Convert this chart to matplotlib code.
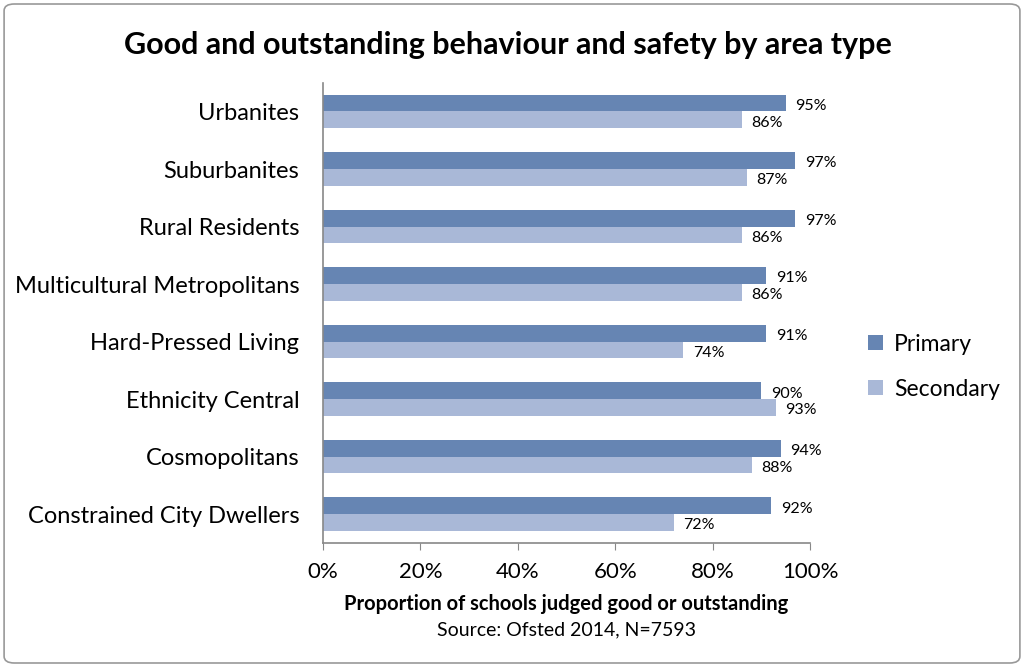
"""
Good and outstanding behaviour and safety by area type (Ofsted 2014).
"""

import matplotlib
matplotlib.use("Agg")
import matplotlib.pyplot as plt
import numpy as np
from matplotlib.patches import FancyBboxPatch

categories = [
    "Urbanites",
    "Suburbanites",
    "Rural Residents",
    "Multicultural Metropolitans",
    "Hard-Pressed Living",
    "Ethnicity Central",
    "Cosmopolitans",
    "Constrained City Dwellers",
]
primary = [95, 97, 97, 91, 91, 90, 94, 92]
secondary = [86, 87, 86, 86, 74, 93, 88, 72]
x_ticks = [0, 20, 40, 60, 80, 100]

PRIMARY_COLOR = "#6685b3"
SECONDARY_COLOR = "#a9b8d7"


def main():
    plt.rcParams["font.family"] = ["Lato", "DejaVu Sans"]

    fig = plt.figure(figsize=(10.24, 6.67), dpi=100)
    ax = fig.add_axes([0.3154, 0.186, 0.4756, 0.69])

    y = np.arange(len(categories))
    h = 0.29
    ax.barh(y - h / 2, primary, height=h, color=PRIMARY_COLOR, label="Primary")
    ax.barh(y + h / 2, secondary, height=h, color=SECONDARY_COLOR, label="Secondary")

    for yi, p, s in zip(y, primary, secondary):
        ax.annotate(f"{p}%", (p, yi - h / 2), xytext=(7, -2), textcoords="offset points",
                    va="center", ha="left", fontsize=11.5)
        ax.annotate(f"{s}%", (s, yi + h / 2), xytext=(7, -2), textcoords="offset points",
                    va="center", ha="left", fontsize=11.5)

    ax.set_xlim(0, 100)
    ax.set_ylim(len(categories) - 0.5, -0.5)
    ax.set_xticks(x_ticks)
    ax.set_xticklabels([f"{t}%" for t in x_ticks], fontsize=16)
    ax.set_yticks(y)
    ax.set_yticklabels(categories, fontsize=17, va="center_baseline")
    ax.tick_params(axis="y", length=0, pad=17)
    ax.tick_params(axis="x", length=5, color="#888888", pad=9)

    for side in ("top", "right"):
        ax.spines[side].set_visible(False)
    for side in ("left", "bottom"):
        ax.spines[side].set_color("#888888")
        ax.spines[side].set_linewidth(1.2)

    fig.text(0.496, 0.932, "Good and outstanding behaviour and safety by area type",
             ha="center", va="center", fontsize=22, fontweight="bold")
    fig.text(0.553, 0.095, "Proportion of schools judged good or outstanding",
             ha="center", va="center", fontsize=14.5, fontweight="bold")
    fig.text(0.553, 0.056, "Source: Ofsted 2014, N=7593",
             ha="center", va="center", fontsize=14)

    fig.legend(loc="center left", bbox_to_anchor=(0.828, 0.45), frameon=False,
               fontsize=16.5, handlelength=0.65, handleheight=0.65, labelspacing=1.05,
               handletextpad=0.45)

    border = FancyBboxPatch((0.004, 0.006), 0.992, 0.988, boxstyle="round,pad=0,rounding_size=0.01",
                            transform=fig.transFigure, fill=False, edgecolor="#999999",
                            linewidth=1.2)
    fig.patches.append(border)

    fig.savefig("out.png", dpi=100, facecolor="white")


if __name__ == "__main__":
    main()
